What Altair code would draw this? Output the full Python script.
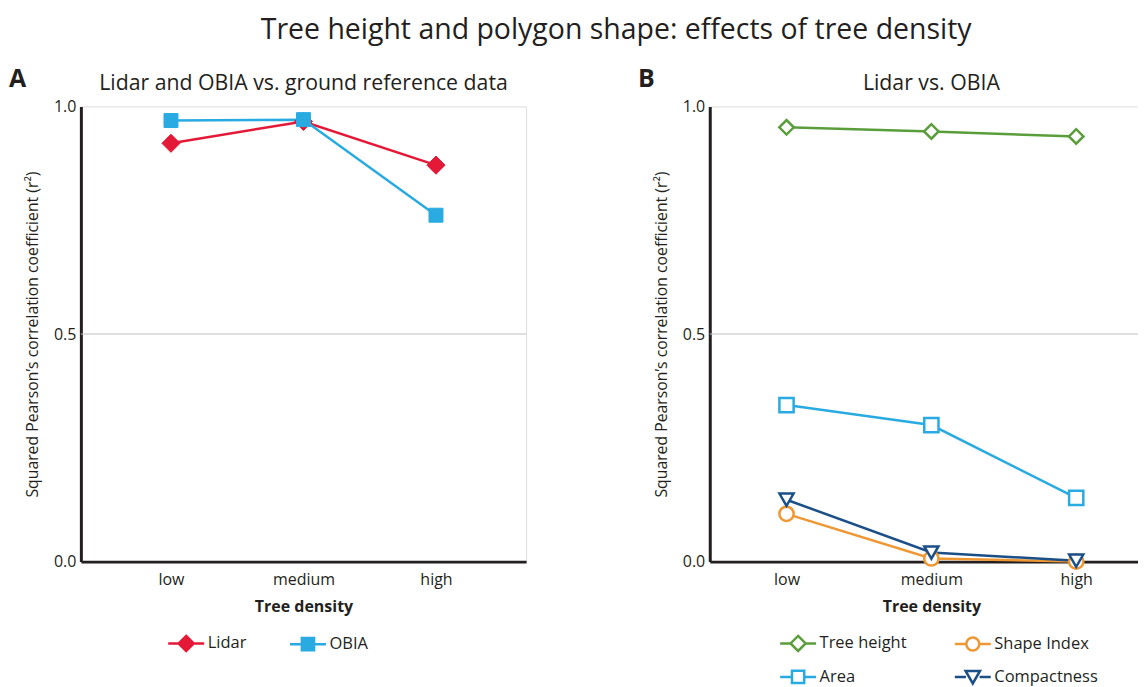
import altair as alt
import pandas as pd

# ---------------- data ----------------
categories = ["low", "medium", "high"]

# Panel A: Lidar and OBIA vs. ground reference data
series_a = ["Lidar", "OBIA"]
lidar = [0.919, 0.967, 0.871]
obia = [0.969, 0.971, 0.761]

# Panel B: Lidar vs. OBIA
series_b = ["Tree height", "Shape Index", "Area", "Compactness"]
tree_height = [0.954, 0.945, 0.934]
shape_index = [0.105, 0.007, 0.0]
area = [0.344, 0.300, 0.140]
compactness = [0.136, 0.020, 0.002]

y_ticks = [0.0, 0.5, 1.0]

# ---------------- styles ----------------
FONT = "Open Sans"
INK = "#231f20"
colors_a = ["#e31937", "#29abe2"]
colors_b = ["#5a9e3c", "#ee9733", "#29abe2", "#1b4f87"]
shapes_a = ["diamond", "square"]
shapes_b = ["diamond", "circle", "square", "triangle-down"]
sizes_a = [330, 196]
sizes_b = [210, 200, 170, 190]

# legend glyphs: line + marker, unit coordinates (+-1 = symbol width)
marker_paths = {
    "diamond": "M0,-0.42L0.42,0L0,0.42L-0.42,0Z",
    "square": "M-0.34,-0.34H0.34V0.34H-0.34Z",
    "circle": "M0.36,0A0.36,0.36,0,1,1,-0.36,0A0.36,0.36,0,1,1,0.36,0Z",
    "triangle-down": "M-0.4,-0.33L0.4,-0.33L0,0.36Z",
}
line_path = "M-1,0H-0.38M0.38,0H1"


def long_df(series, values):
    rows = []
    for s, vals in zip(series, values):
        for c, v in zip(categories, vals):
            rows.append({"series": s, "density": c, "r2": v})
    return pd.DataFrame(rows)


def panel(series, values, colors, shapes, sizes, filled, title, letter,
          width, padding, columns, legend_x, col_pad):
    df = long_df(series, values)
    x = alt.X(
        "density:N",
        sort=categories,
        scale=alt.Scale(type="point", padding=padding),
        title="Tree density",
        axis=alt.Axis(
            labelAngle=0, ticks=False, domainWidth=3, domainColor=INK,
            labelFont=FONT, labelFontSize=16, labelColor=INK, labelPadding=10,
            titleFont=FONT, titleFontSize=16, titleFontWeight="bold",
            titleColor=INK, titlePadding=11,
        ),
    )
    y = alt.Y(
        "r2:Q",
        scale=alt.Scale(domain=[0, 1], nice=False),
        title="Squared Pearson’s correlation coefficient (r²)",
        axis=alt.Axis(
            values=y_ticks, format=".1f", grid=False, ticks=False,
            domainWidth=3, domainColor=INK, labelFont=FONT, labelFontSize=16,
            labelColor=INK, labelPadding=5, titleFont=FONT, titleFontSize=15.8,
            titleFontWeight="normal", titleColor=INK, titlePadding=13,
        ),
    )
    color_scale = alt.Scale(domain=series, range=colors)
    legend_shapes = [line_path + marker_paths[s] for s in shapes]
    legend = alt.Legend(
        title=None, orient="none", legendX=legend_x, legendY=518,
        direction="horizontal", columns=columns,
        symbolSize=1296, symbolStrokeWidth=2.5, symbolOpacity=1,
        symbolFillColor="white",
        labelFont=FONT, labelFontSize=16.5, labelColor=INK, labelOffset=2,
        columnPadding=col_pad, rowPadding=1,
    )

    rule = alt.Chart(pd.DataFrame({"v": [0.5]})).mark_rule(
        color="#c0c0c0", strokeWidth=1
    ).encode(y="v:Q")

    lines = alt.Chart(df).mark_line(strokeWidth=2.5).encode(
        x=x, y=y,
        stroke=alt.Stroke("series:N", scale=color_scale, legend=None),
        detail="series:N",
    )
    shape_enc = alt.Shape("series:N", scale=alt.Scale(domain=series, range=shapes), legend=None)
    size_enc = alt.Size("series:N", scale=alt.Scale(domain=series, range=sizes), legend=None)
    if filled:
        pts = alt.Chart(df).mark_point(filled=True, strokeWidth=1, opacity=1).encode(
            x=x, y=y,
            stroke=alt.Stroke("series:N", scale=color_scale, legend=None),
            fill=alt.Fill("series:N", scale=color_scale, legend=None),
            shape=shape_enc, size=size_enc,
        )
        dummy = alt.Chart(df).mark_point(filled=True, strokeWidth=2.5, opacity=0).encode(
            x=x, y=y,
            stroke=alt.Stroke("series:N", scale=color_scale, legend=legend),
            fill=alt.Fill("series:N", scale=color_scale, legend=legend),
            shape=alt.Shape("series:N", scale=alt.Scale(domain=series, range=legend_shapes), legend=legend),
        )
    else:
        pts = alt.Chart(df).mark_point(filled=True, fill="white", strokeWidth=2.5, opacity=1).encode(
            x=x, y=y,
            stroke=alt.Stroke("series:N", scale=color_scale, legend=None),
            shape=shape_enc, size=size_enc,
        )
        dummy = alt.Chart(df).mark_point(filled=True, fill="white", strokeWidth=2.5, opacity=0).encode(
            x=x, y=y,
            stroke=alt.Stroke("series:N", scale=color_scale, legend=legend),
            shape=alt.Shape("series:N", scale=alt.Scale(domain=series, range=legend_shapes), legend=legend),
        )
    lab = alt.Chart(pd.DataFrame({"t": [letter]})).mark_text(
        font=FONT, fontSize=25, fontWeight="bold", color=INK,
        align="left", baseline="middle",
    ).encode(x=alt.value(-72), y=alt.value(-27), text="t:N")
    sub = alt.Chart(pd.DataFrame({"t": [title]})).mark_text(
        font=FONT, fontSize=21.3, fontWeight="normal", color=INK,
        align="center", baseline="alphabetic",
    ).encode(x=alt.value(width / 2), y=alt.value(-16), text="t:N")

    return alt.layer(rule, lines, pts, dummy, lab, sub).resolve_scale(
        stroke="independent", fill="independent", shape="independent", size="independent",
    ).resolve_legend(
        stroke="independent", fill="independent", shape="independent", size="independent",
    ).properties(width=width, height=456)


left = panel(series_a, [lidar, obia], colors_a, shapes_a, sizes_a, True,
             "Lidar and OBIA vs. ground reference data", "A",
             446, 0.68, 2, 86, 38)
right = panel(series_b, [tree_height, shape_index, area, compactness], colors_b,
              shapes_b, sizes_b, False, "Lidar vs. OBIA", "B",
              444, 0.53, 2, 69, 42)

chart = alt.hconcat(left, right, spacing=110).resolve_scale(
    stroke="independent", shape="independent", size="independent",
    fill="independent", x="independent", y="independent",
).properties(
    title=alt.TitleParams(
        "Tree height and polygon shape: effects of tree density",
        font=FONT, fontSize=28.5, fontWeight="normal", color=INK,
        anchor="middle", offset=23, dx=35,
    )
).configure_view(stroke=None).configure(padding={"left": 0, "top": 7, "right": -16, "bottom": 0})

chart.save("out.html", embed_options={"renderer": "svg", "actions": False})
